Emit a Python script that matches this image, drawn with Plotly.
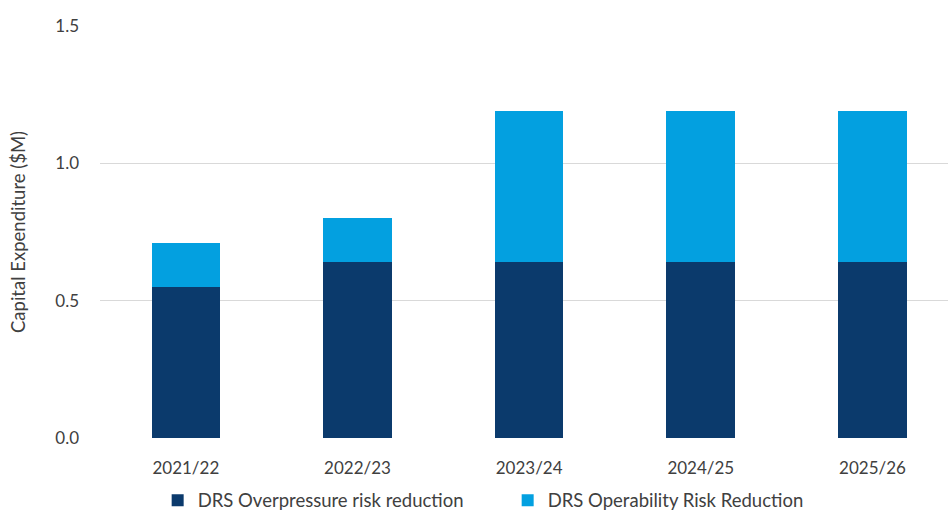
import plotly.graph_objects as go

# Capital expenditure by financial year ($M)
years = ["2021/22", "2022/23", "2023/24", "2024/25", "2025/26"]
overpressure = [0.55, 0.64, 0.64, 0.64, 0.64]
operability = [0.16, 0.16, 0.55, 0.55, 0.55]
y_ticks = [0.0, 0.5, 1.0, 1.5]
y_tick_text = ["0.0", "0.5", "1.0", "1.5"]

DARK = "#0b3a6c"
LIGHT = "#03a0e0"
TEXT = "#404040"
FONT = "Lato"

fig = go.Figure()
fig.add_trace(go.Bar(
    x=years, y=overpressure, name="DRS Overpressure risk reduction",
    marker=dict(color=DARK, line=dict(width=0)), width=0.4,
))
fig.add_trace(go.Bar(
    x=years, y=operability, name="DRS Operability Risk Reduction",
    marker=dict(color=LIGHT, line=dict(width=0)), width=0.4,
))

fig.update_layout(
    barmode="stack",
    width=948, height=513,
    margin=dict(l=100, r=0, t=26, b=75, autoexpand=False),
    paper_bgcolor="white", plot_bgcolor="white",
    font=dict(family=FONT, size=17, color=TEXT),
    showlegend=True,
    legend=dict(
        orientation="h", x=0.068, xanchor="left", y=-0.152, yanchor="middle",
        font=dict(family=FONT, size=18.5, color=TEXT),
        entrywidth=305, entrywidthmode="pixels",
        itemsizing="constant", traceorder="normal",
    ),
    xaxis=dict(
        range=[-0.5, 4.44], showgrid=False, showline=False, ticks="",
        ticklabelstandoff=18,
        tickfont=dict(family=FONT, size=17, color=TEXT),
    ),
    yaxis=dict(
        range=[0, 1.5], tickvals=y_ticks, ticktext=y_tick_text,
        showgrid=True, gridcolor="#d9d9d9", gridwidth=1,
        zeroline=False, showline=False, ticks="", ticklabelstandoff=20,
        tickfont=dict(family=FONT, size=17, color=TEXT),
        title=dict(text="Capital Expenditure ($M)", standoff=24,
                   font=dict(family=FONT, size=18.5, color=TEXT)),
    ),
)

fig.write_html("out.html")
